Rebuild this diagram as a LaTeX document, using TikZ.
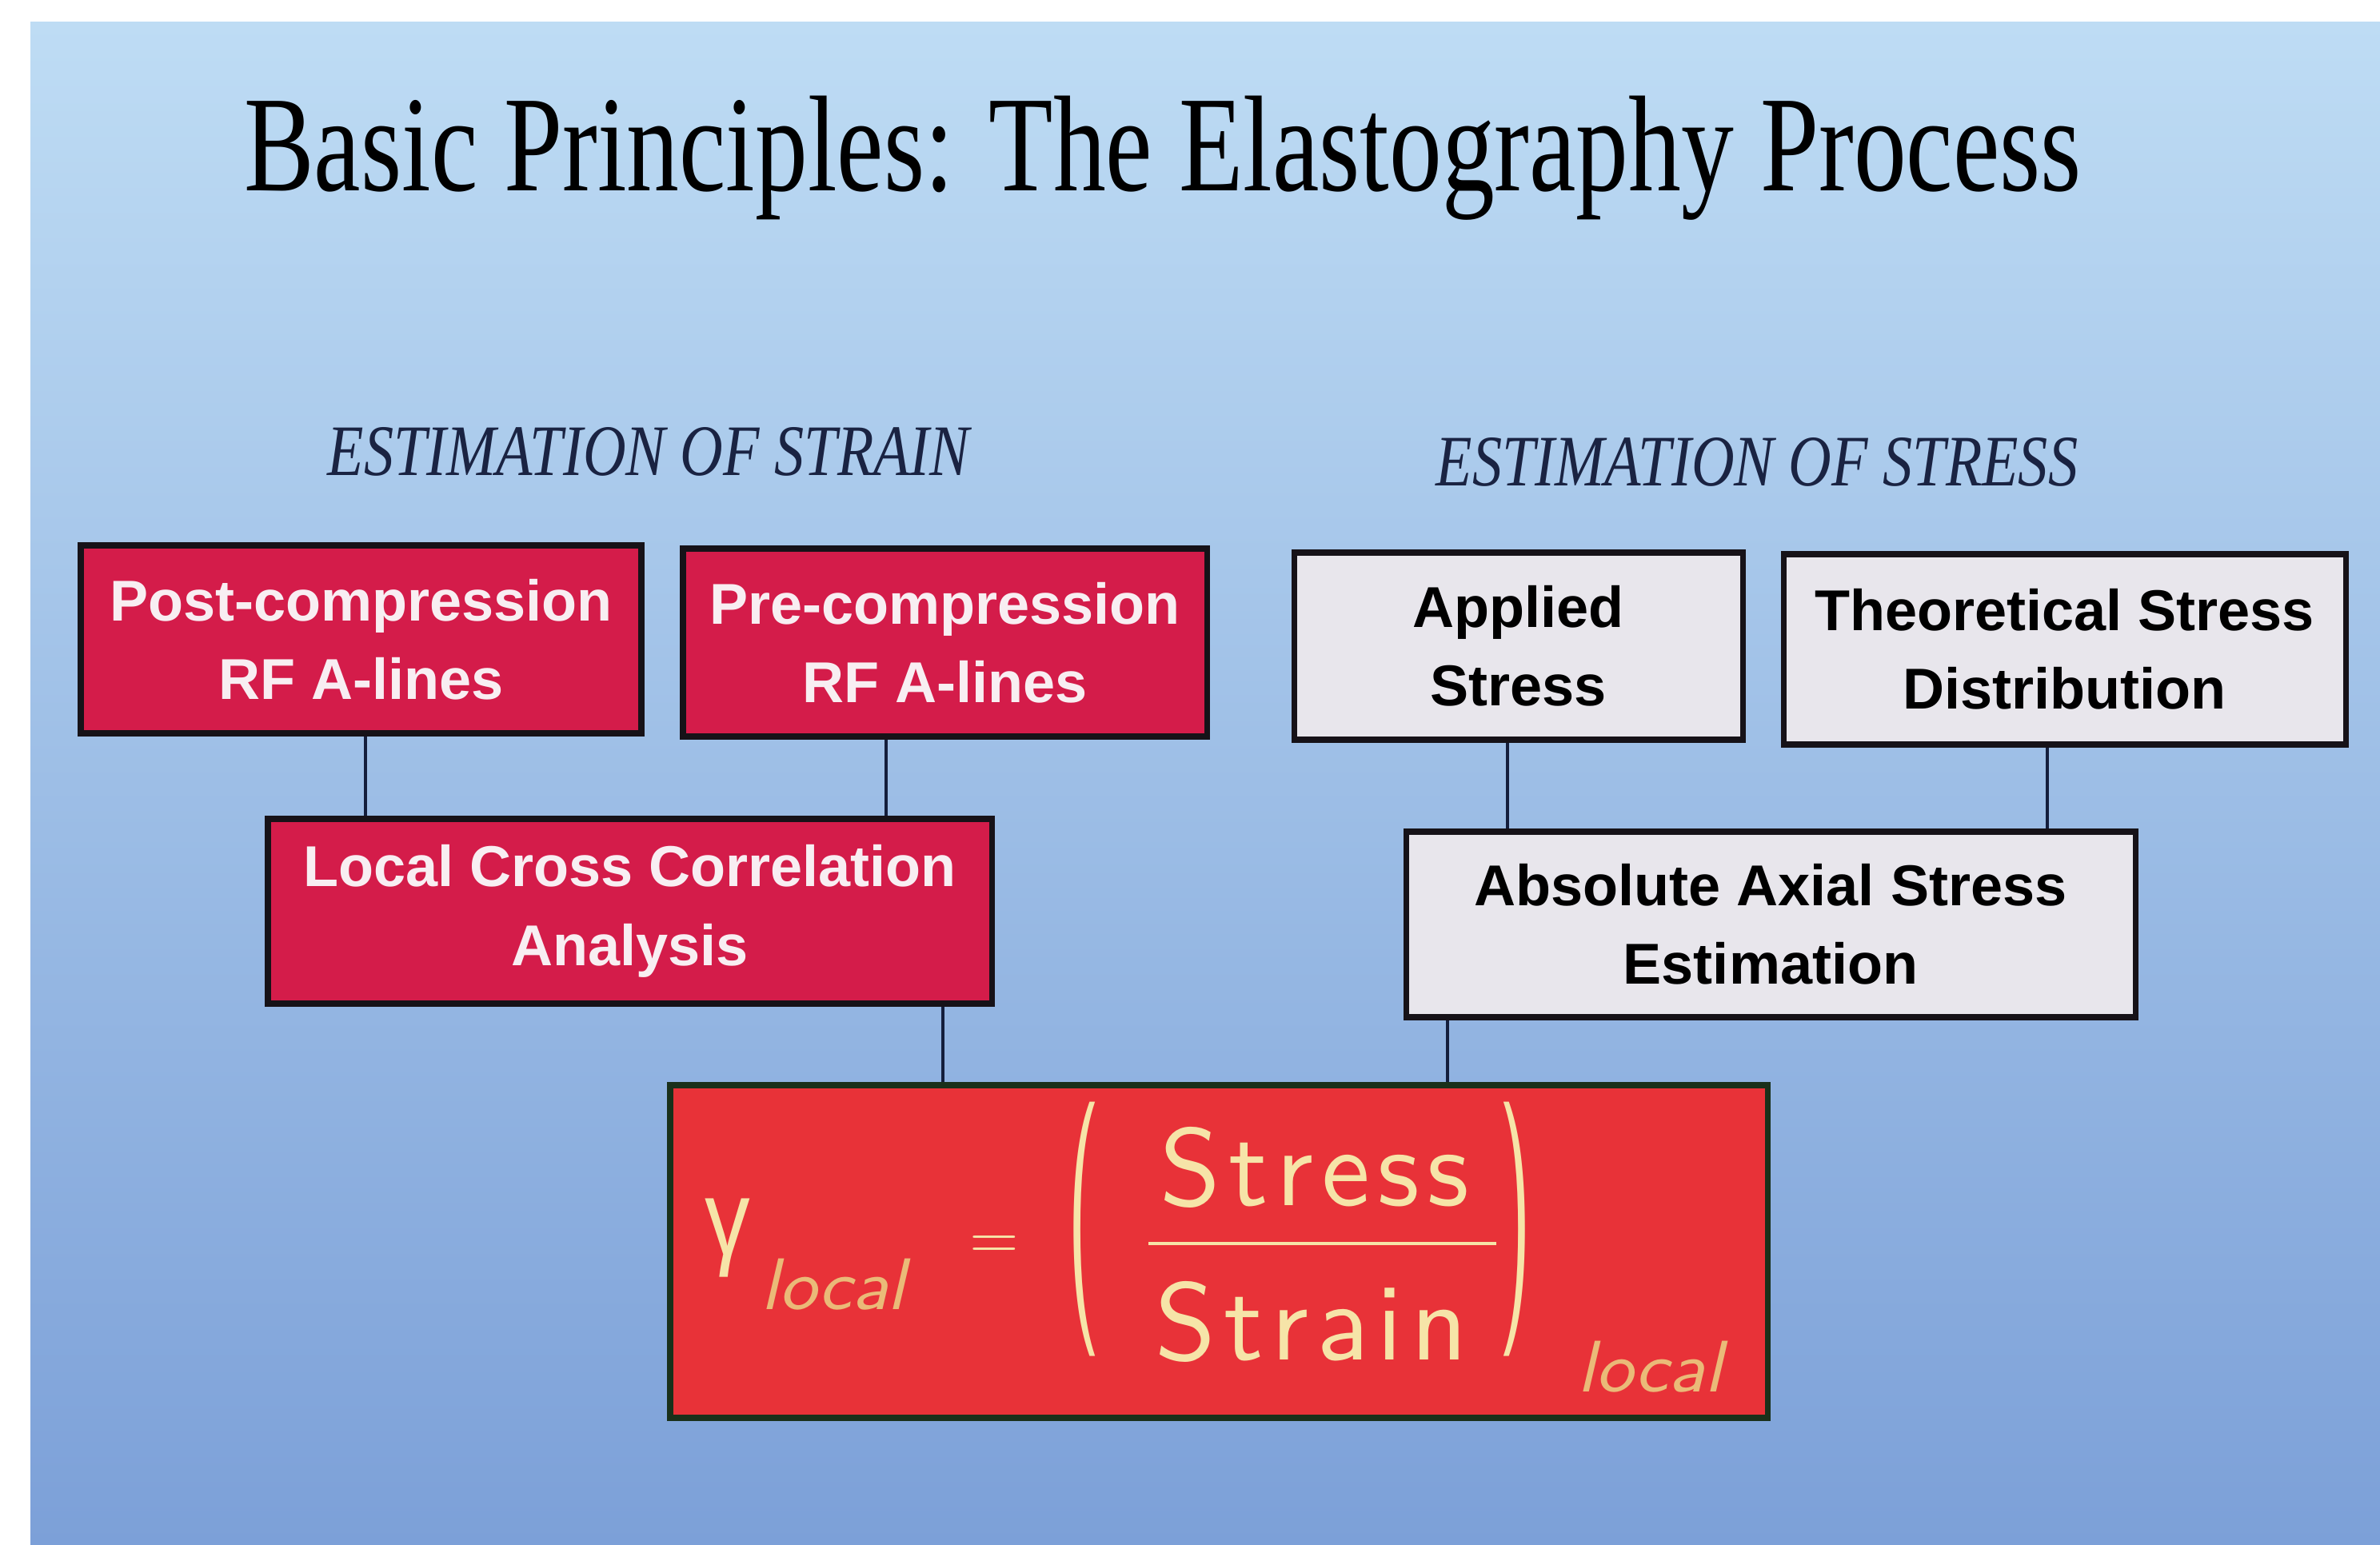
\documentclass[tikz,border=0pt]{standalone}
\usepackage{fontspec}
\newfontfamily\titlefont[FakeStretch=0.77]{Liberation Serif}
\newfontfamily\headfont[FakeStretch=0.82]{Liberation Serif}
\newfontfamily\boxfont{Liberation Sans}
\newfontfamily\greekfont{Liberation Sans}
\newfontfamily\formfont[Extension=.otf, LetterSpace=7, ItalicFont=lmsans10-oblique]{lmsans10-regular}
\definecolor{skytop}{RGB}{190,220,244}
\definecolor{skymid}{RGB}{168,204,239}
\definecolor{skybot}{RGB}{124,160,216}
\definecolor{crimson}{RGB}{212,28,74}
\definecolor{pinkwhite}{RGB}{248,238,242}
\definecolor{paleg}{RGB}{232,230,236}
\definecolor{boxedge}{RGB}{22,18,24}
\definecolor{linkcol}{RGB}{20,30,60}
\definecolor{navy}{RGB}{26,35,66}
\definecolor{formred}{RGB}{232,50,56}
\definecolor{formedge}{RGB}{26,48,26}
\definecolor{cream}{RGB}{246,228,168}
\definecolor{subcol}{RGB}{234,186,120}

\begin{document}
\begin{tikzpicture}[
    redbox/.style={draw=boxedge, line width=2pt, fill=crimson, text=pinkwhite,
      font=\boxfont\bfseries\fontsize{20.5}{28}\selectfont, align=center, inner sep=0pt},
    greybox/.style={redbox, fill=paleg, text=black},
    link/.style={draw=linkcol, line width=1.2pt},
    formtext/.style={text=cream, inner sep=0pt},
    headtext/.style={text=navy, anchor=base, font=\headfont\itshape\fontsize{25.8}{28}\selectfont}
  ]
  \useasboundingbox (0,0) rectangle (29.76,-19.32);
  \fill[white] (0,0) rectangle (29.76,-19.32);
  \shade[top color=skytop, middle color=skymid, bottom color=skybot] (0.38,-0.28) rectangle (29.76,-19.32);

  \node[anchor=base, font=\titlefont\fontsize{48.6}{50}\selectfont] (title) at (14.54,-2.39) {Basic Principles: The Elastography Process};
  \node[headtext] (strainhead) at (8.11,-5.95) {ESTIMATION OF STRAIN};
  \node[headtext] (stresshead) at (21.97,-6.08) {ESTIMATION OF STRESS};

  \node[redbox, minimum width=7.01cm, minimum height=2.35cm] (post) at (4.515,-7.995) {Post-compression\\RF A-lines};
  \node[redbox, minimum width=6.55cm, minimum height=2.35cm] (pre) at (11.815,-8.035) {Pre-compression\\RF A-lines};
  \node[redbox, minimum width=9.05cm, minimum height=2.31cm] (local) at (7.875,-11.395) {Local Cross Correlation\\Analysis};
  \node[greybox, minimum width=5.61cm, minimum height=2.34cm] (applied) at (18.985,-8.08) {Applied\\Stress};
  \node[greybox, minimum width=7.03cm, minimum height=2.38cm] (theory) at (25.815,-8.12) {Theoretical Stress\\Distribution};
  \node[greybox, minimum width=9.12cm, minimum height=2.32cm] (absolute) at (22.14,-11.56) {Absolute Axial Stress\\Estimation};
  \node[draw=formedge, line width=2pt, fill=formred, minimum width=13.72cm, minimum height=4.16cm] (formula) at (15.24,-15.65) {};

  \draw[link] (post.south -| 4.57,0) -- (local.north -| 4.57,0);
  \draw[link] (pre.south -| 11.08,0) -- (local.north -| 11.08,0);
  \draw[link] (local.south -| 11.79,0) -- (formula.north -| 11.79,0);
  \draw[link] (applied.south -| 18.85,0) -- (absolute.north -| 18.85,0);
  \draw[link] (theory.south -| 25.6,0) -- (absolute.north -| 25.6,0);
  \draw[link] (absolute.south -| 18.1,0) -- (formula.north -| 18.1,0);

  % formula text
  \node[formtext, font=\greekfont\fontsize{38}{38}\selectfont] (gam) at (9.095,-15.485) {\scalebox{0.85}[1]{γ}};
  \node[formtext, text=subcol, anchor=base, font=\sffamily\itshape\fontsize{26}{26}\selectfont] (sub1) at (10.42,-16.37) {\scalebox{1.09}[1]{local}};
  \node[formtext, font=\sffamily\fontsize{24}{24}\selectfont] (eq) at (12.435,-15.6) {=};
  \node[formtext, font=\sffamily\fontsize{32}{32}\selectfont] (lpar) at (13.55,-15.375) {\scalebox{1}[2.83]{(}};
  \node[formtext, font=\sffamily\fontsize{32}{32}\selectfont] (rpar) at (18.95,-15.375) {\scalebox{1}[2.83]{)}};
  \node[formtext, anchor=base, font=\formfont\fontsize{39}{39}\selectfont] (stress) at (16.44,-15.07) {Stress};
  \node[formtext, anchor=base, font=\formfont\fontsize{39}{39}\selectfont] (strain) at (16.4,-17.0) {Strain};
  \draw[cream, line width=1.2pt] (14.36,-15.55) -- (18.71,-15.55);
  \node[formtext, text=subcol, anchor=base, font=\sffamily\itshape\fontsize{26}{26}\selectfont] (sub2) at (20.63,-17.4) {\scalebox{1.09}[1]{local}};
\end{tikzpicture}
\end{document}
